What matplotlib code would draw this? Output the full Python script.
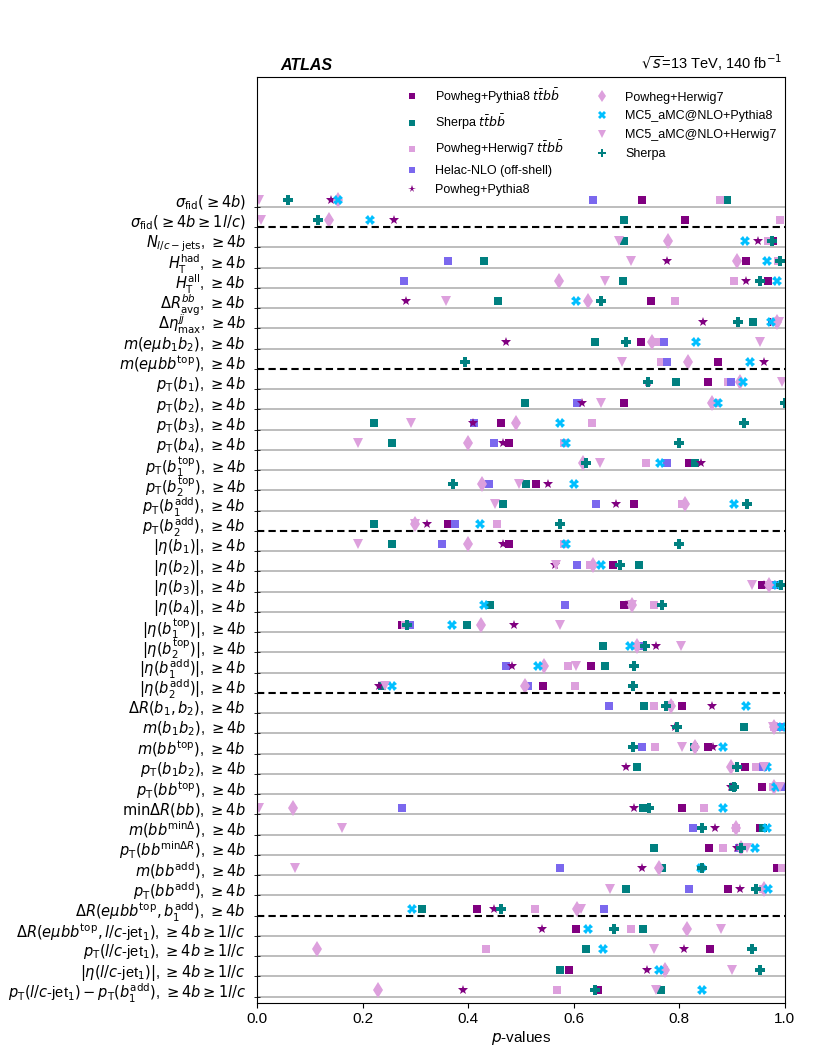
import numpy as np
import matplotlib
matplotlib.use('Agg')
import matplotlib.pyplot as plt

plt.rcParams['font.family'] = ['Liberation Sans', 'DejaVu Sans']
plt.rcParams['mathtext.fontset'] = 'dejavusans'

nan = np.nan

# observables (rows, top to bottom)
b4 = r', $\geq 4b$'
b4lc = r', $\geq 4b \geq 1l/c$'
labels = [
    r'$\sigma_{\mathrm{fid}}(\geq 4b)$',
    r'$\sigma_{\mathrm{fid}}(\geq 4b \geq 1l/c)$',
    r'$N_{l/c-\mathrm{jets}}$' + b4,
    r'$H_{\mathrm{T}}^{\mathrm{had}}$' + b4,
    r'$H_{\mathrm{T}}^{\mathrm{all}}$' + b4,
    r'$\Delta R_{\mathrm{avg}}^{bb}$' + b4,
    r'$\Delta \eta_{\mathrm{max}}^{jj}$' + b4,
    r'$m(e\mu b_1 b_2)$' + b4,
    r'$m(e\mu bb^{\mathrm{top}})$' + b4,
    r'$p_{\mathrm{T}}(b_1)$' + b4,
    r'$p_{\mathrm{T}}(b_2)$' + b4,
    r'$p_{\mathrm{T}}(b_3)$' + b4,
    r'$p_{\mathrm{T}}(b_4)$' + b4,
    r'$p_{\mathrm{T}}(b_1^{\mathrm{top}})$' + b4,
    r'$p_{\mathrm{T}}(b_2^{\mathrm{top}})$' + b4,
    r'$p_{\mathrm{T}}(b_1^{\mathrm{add}})$' + b4,
    r'$p_{\mathrm{T}}(b_2^{\mathrm{add}})$' + b4,
    r'$|\eta(b_1)|$' + b4,
    r'$|\eta(b_2)|$' + b4,
    r'$|\eta(b_3)|$' + b4,
    r'$|\eta(b_4)|$' + b4,
    r'$|\eta(b_1^{\mathrm{top}})|$' + b4,
    r'$|\eta(b_2^{\mathrm{top}})|$' + b4,
    r'$|\eta(b_1^{\mathrm{add}})|$' + b4,
    r'$|\eta(b_2^{\mathrm{add}})|$' + b4,
    r'$\Delta R(b_1, b_2)$' + b4,
    r'$m(b_1 b_2)$' + b4,
    r'$m(bb^{\mathrm{top}})$' + b4,
    r'$p_{\mathrm{T}}(b_1 b_2)$' + b4,
    r'$p_{\mathrm{T}}(bb^{\mathrm{top}})$' + b4,
    r'$\mathrm{min}\Delta R(bb)$' + b4,
    r'$m(bb^{\mathrm{min}\Delta})$' + b4,
    r'$p_{\mathrm{T}}(bb^{\mathrm{min}\Delta R})$' + b4,
    r'$m(bb^{\mathrm{add}})$' + b4,
    r'$p_{\mathrm{T}}(bb^{\mathrm{add}})$' + b4,
    r'$\Delta R(e\mu bb^{\mathrm{top}}, b_1^{\mathrm{add}})$' + b4,
    r'$\Delta R(e\mu bb^{\mathrm{top}}, l/c$-jet$_1)$' + b4lc,
    r'$p_{\mathrm{T}}(l/c$-jet$_1)$' + b4lc,
    r'$|\eta(l/c$-jet$_1)|$' + b4lc,
    r'$p_{\mathrm{T}}(l/c$-jet$_1) - p_{\mathrm{T}}(b_1^{\mathrm{add}})$' + b4lc,
]
# rows after which a dashed separator is drawn
groups_end = [1, 8, 16, 24, 35]

# p-values per prediction
pp8_ttbb = [0.729, 0.811, 0.978, 0.927, 0.968, 0.747, 0.975, 0.728, 0.873, 0.854,
            0.695, 0.462, 0.478, 0.818, 0.528, 0.714, 0.362, 0.478, 0.674, 0.957,
            0.696, 0.274, 0.730, 0.633, 0.542, 0.805, 0.983, 0.854, 0.924, 0.957,
            0.806, 0.953, 0.856, 0.986, 0.892, 0.417, 0.605, 0.858, 0.592, 0.646]
sherpa_ttbb = [0.890, 0.696, 0.696, 0.431, 0.693, 0.456, 0.940, 0.641, nan, 0.793,
               0.508, 0.221, 0.256, 0.829, 0.510, 0.466, 0.221, 0.256, 0.724, 0.988,
               0.441, 0.397, 0.656, 0.660, 0.237, 0.734, 0.922, 0.827, 0.720, 0.902,
               0.732, 0.959, 0.753, 0.767, 0.699, 0.313, 0.731, 0.624, 0.575, 0.765]
ph7_ttbb = [0.878, 0.990, 0.968, 0.987, 0.904, 0.792, 0.981, 0.757, 0.765, 0.892,
            0.868, 0.634, 0.581, 0.737, 0.437, 0.805, 0.454, 0.581, 0.631, 0.970,
            0.752, 0.280, 0.716, 0.589, 0.602, 0.752, 0.980, 0.754, 0.945, 0.978,
            0.847, 0.907, 0.882, 0.995, 0.958, 0.526, 0.709, 0.434, 0.772, 0.569]
helac = [0.637, nan, nan, 0.361, 0.279, nan, nan, 0.771, 0.777, 0.898,
         0.607, 0.411, 0.449, 0.776, 0.439, 0.643, 0.375, 0.350, 0.606, 0.978,
         0.584, 0.290, 0.723, 0.472, 0.513, 0.666, 0.991, 0.730, 0.959, 0.997,
         0.274, 0.826, 0.914, 0.575, 0.819, 0.658, nan, nan, nan, nan]
pp8 = [0.140, 0.260, 0.950, 0.777, 0.926, 0.282, 0.845, 0.472, 0.961, 0.740,
       0.615, 0.409, 0.466, 0.841, 0.551, 0.681, 0.323, 0.466, 0.564, 0.960,
       0.700, 0.486, 0.755, 0.484, 0.231, 0.862, 0.792, 0.864, 0.700, 0.898,
       0.714, 0.868, 0.910, 0.730, 0.915, 0.449, 0.540, 0.809, 0.739, 0.390]
ph7 = [0.154, 0.136, 0.779, 0.910, 0.572, 0.627, 0.985, 0.749, 0.817, 0.915,
       0.862, 0.490, 0.400, 0.617, 0.427, 0.810, 0.300, 0.400, 0.636, 0.970,
       0.710, 0.424, 0.720, 0.544, 0.508, 0.785, 0.980, 0.829, 0.898, 0.980,
       0.068, 0.907, 0.916, 0.762, 0.960, 0.606, 0.814, 0.114, 0.773, 0.229]
mc5_py8 = [0.154, 0.214, 0.924, 0.967, 0.985, 0.605, 0.973, 0.831, 0.934, 0.920,
           0.873, 0.574, 0.586, 0.764, 0.601, 0.904, 0.422, 0.586, 0.651, 0.985,
           0.430, 0.369, 0.706, 0.532, 0.256, 0.926, 0.995, 0.883, 0.967, 0.983,
           0.883, 0.967, 0.943, 0.841, 0.968, 0.294, 0.628, 0.656, 0.762, 0.844]
mc5_h7 = [0.003, 0.008, 0.686, 0.708, 0.659, 0.359, 0.989, 0.953, 0.691, 0.995,
          0.652, 0.292, 0.191, 0.650, 0.496, 0.450, 0.300, 0.191, 0.567, 0.937,
          0.710, 0.575, 0.803, 0.605, 0.243, 0.780, 0.978, 0.805, 0.960, 0.991,
          0.003, 0.161, 0.928, 0.072, 0.669, 0.613, 0.879, 0.753, 0.899, 0.755]
sherpa = [0.059, 0.116, 0.975, 0.991, 0.953, 0.652, 0.912, 0.699, 0.395, 0.741,
          1.000, 0.923, 0.799, 0.623, 0.371, 0.929, 0.575, 0.799, 0.688, 0.993,
          0.767, 0.284, 0.736, 0.714, 0.712, 0.775, 0.795, 0.712, 0.910, 0.903,
          0.742, 0.844, 0.916, 0.843, 0.946, 0.462, 0.676, 0.938, 0.953, 0.641]

series = [
    (pp8_ttbb, r'Powheg+Pythia8 $t\bar{t}b\bar{b}$', 's', '#800080', 6),
    (sherpa_ttbb, r'Sherpa $t\bar{t}b\bar{b}$', 's', '#008080', 6),
    (ph7_ttbb, r'Powheg+Herwig7 $t\bar{t}b\bar{b}$', 's', '#dda0dd', 6),
    (helac, 'Helac-NLO (off-shell)', 's', '#7b68ee', 6),
    (pp8, 'Powheg+Pythia8', '*', '#800080', 7),
    (ph7, 'Powheg+Herwig7', 'd', '#dda0dd', 8),
    (mc5_py8, 'MC5_aMC@NLO+Pythia8', 'X', '#00bfff', 6.5),
    (mc5_h7, 'MC5_aMC@NLO+Herwig7', 'v', '#dda0dd', 7),
    (sherpa, 'Sherpa', 'P', '#008080', 7),
]

fig = plt.figure(figsize=(8.3, 10.57), dpi=100)
ax = fig.add_axes([0.3096, 0.0514, 0.636, 0.876])

rows = np.arange(len(labels))
for vals, name, mk, col, ms in series:
    ax.plot(vals, rows, ls='none', marker=mk, color=col, ms=ms, mew=0, label=name)

# separators
for i in rows:
    if i in groups_end:
        ax.axhline(i + 0.33, color='black', lw=1.5, ls=(0, (3.5, 2)), zorder=3)
    else:
        ax.axhline(i + 0.33, color='#b8b8b8', lw=1.3, zorder=0)

ax.set_xlim(0, 1)
ax.set_ylim(39.63, -6.09)
ax.set_yticks(rows)
ax.set_yticklabels(labels, fontsize=10.5)
ax.tick_params(axis='y', which='major', length=0, pad=8)
ax.set_yticks(rows + 0.33, minor=True)
ax.tick_params(axis='y', which='minor', length=4, direction='inout')
ax.set_xticks([0, 0.2, 0.4, 0.6, 0.8, 1.0])
ax.set_xticklabels(['0.0', '0.2', '0.4', '0.6', '0.8', '1.0'], fontsize=11)
ax.set_xlabel(r'$p$-values', fontsize=11, labelpad=2)

ax.text(0.045, 1.004, 'ATLAS', transform=ax.transAxes, fontsize=11.5,
        fontweight='bold', fontstyle='italic', va='bottom', ha='left')
ax.text(0.995, 1.004, r'$\sqrt{s}$=13 TeV, 140 fb$^{-1}$', transform=ax.transAxes,
        fontsize=10.5, va='bottom', ha='right')

ax.legend(loc='upper left', bbox_to_anchor=(0.281, 0.99), ncol=2, frameon=False,
          fontsize=9, handlelength=1.0, handletextpad=1.4, columnspacing=2.5,
          borderaxespad=0, borderpad=0, labelspacing=0.55, markerscale=0.8)

fig.savefig('out.png', dpi=100)
